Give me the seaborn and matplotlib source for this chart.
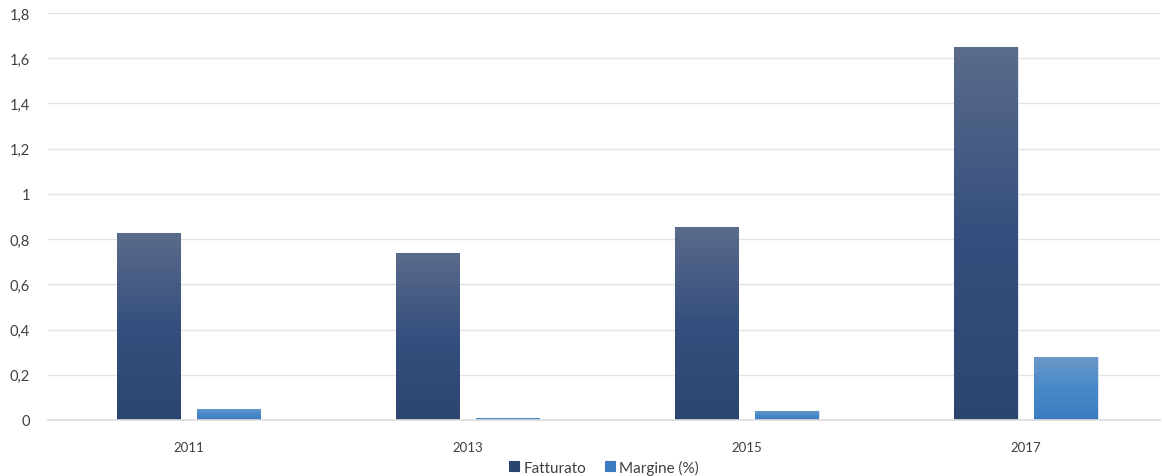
import numpy as np
import pandas as pd
import matplotlib
matplotlib.use("Agg")
import matplotlib.pyplot as plt
import seaborn as sns
from matplotlib.colors import LinearSegmentedColormap

years = ["2011", "2013", "2015", "2017"]
fatturato = [0.827, 0.739, 0.854, 1.65]
margine = [0.049, 0.009, 0.040, 0.279]
series_names = ["Fatturato", "Margine (%)"]
y_ticks = [0, 0.2, 0.4, 0.6, 0.8, 1.0, 1.2, 1.4, 1.6, 1.8]
y_tick_labels = ["0", "0,2", "0,4", "0,6", "0,8", "1", "1,2", "1,4", "1,6", "1,8"]

df = pd.DataFrame({
    "Anno": years * 2,
    "Valore": fatturato + margine,
    "Serie": [series_names[0]] * len(years) + [series_names[1]] * len(years),
})

sns.set_theme(style="white")
plt.rcParams["font.family"] = ["Lato", "DejaVu Sans"]

fig = plt.figure(figsize=(11.62, 4.77), dpi=100)
ax = fig.add_axes([48 / 1162, 1 - 421 / 477, 1112 / 1162, (421 - 14) / 477])

base_colors = {"Fatturato": "#2c4570", "Margine (%)": "#3b7cc0"}
mid_colors = {"Fatturato": "#354f7e", "Margine (%)": "#4889c8"}
top_colors = {"Fatturato": "#5b6b8b", "Margine (%)": "#6b99c9"}

sns.barplot(data=df, x="Anno", y="Valore", hue="Serie", palette=base_colors,
            width=0.575, gap=0.21, ax=ax, edgecolor="#dbe3ee", linewidth=0.8,
            legend=True)

XLIM = (-0.503, 3.48)
ax.set_ylim(0, 1.8)
ax.set_xlim(*XLIM)
ax.set_yticks(y_ticks)
ax.set_yticklabels(y_tick_labels)
ax.yaxis.grid(True, color="#e3e3e3", linewidth=1)
ax.set_axisbelow(True)
for s in ["top", "right", "left"]:
    ax.spines[s].set_visible(False)
ax.spines["bottom"].set_color("#dcdcdc")
ax.spines["bottom"].set_linewidth(1.2)
ax.set_xlabel("")
ax.set_ylabel("")
ax.tick_params(axis="y", length=0, pad=13, labelsize=10.5, labelcolor="#404040")
ax.tick_params(axis="x", length=0, pad=15, labelsize=9.5, labelcolor="#404040")

# gradient fill over each bar
grad = np.linspace(0, 1, 256).reshape(-1, 1)
for container, name in zip(ax.containers, series_names):
    cmap = LinearSegmentedColormap.from_list(
        name, [(0.0, base_colors[name]), (0.5, mid_colors[name]), (1.0, top_colors[name])])
    for patch in container.patches:
        x0, y0 = patch.get_x(), patch.get_y()
        w, h = patch.get_width(), patch.get_height()
        if h <= 0:
            continue
        im = ax.imshow(grad, extent=[x0, x0 + w, y0, y0 + h], origin="lower",
                       cmap=cmap, aspect="auto", zorder=patch.get_zorder() + 0.1,
                       interpolation="bicubic")
        im.set_clip_path(patch)
ax.set_xlim(*XLIM)
ax.set_ylim(0, 1.8)

leg = ax.legend(loc="center", bbox_to_anchor=(0.5, -(468 - 421) / 407), ncol=2,
                frameon=False, fontsize=11, handlelength=0.65, handleheight=0.65,
                handletextpad=0.3, columnspacing=1.2, borderpad=0.1)
for t in leg.get_texts():
    t.set_color("#404040")
for h, name in zip(leg.legend_handles, series_names):
    h.set_facecolor(base_colors[name])
    h.set_edgecolor(base_colors[name])

fig.savefig("out.png", dpi=100)
